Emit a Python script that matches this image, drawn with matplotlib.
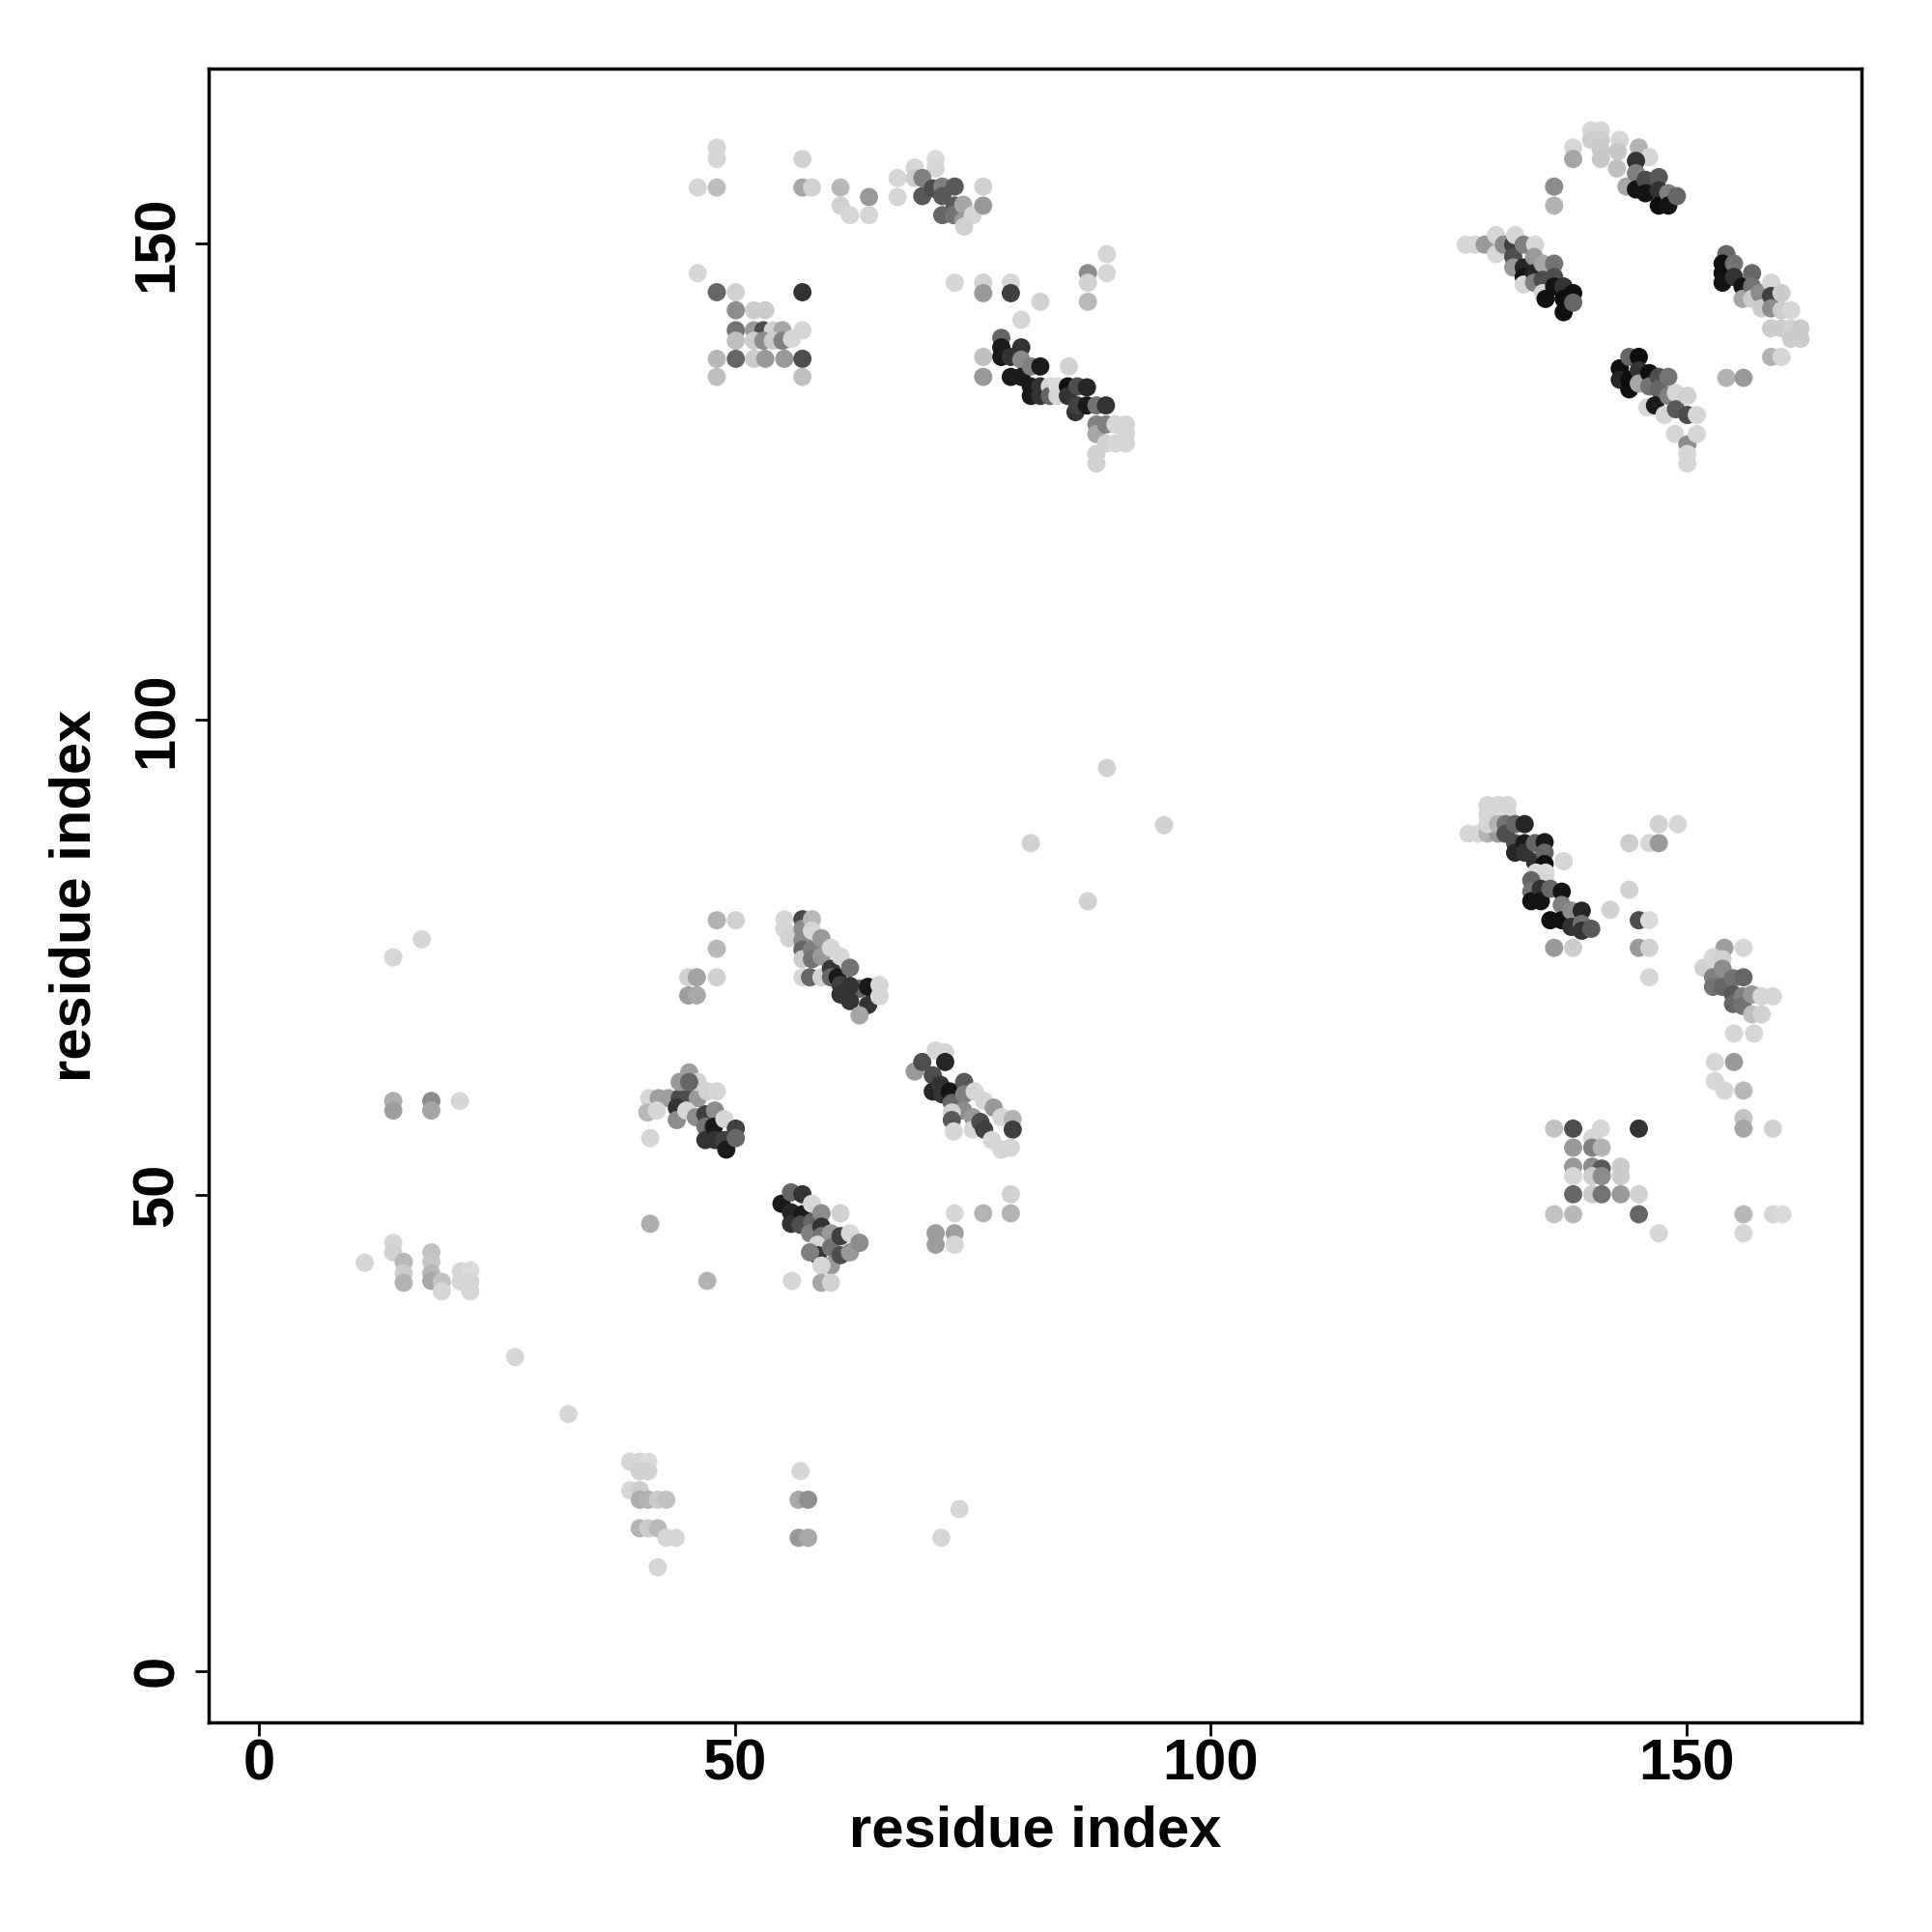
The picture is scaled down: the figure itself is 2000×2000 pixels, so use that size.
import matplotlib
matplotlib.use("Agg")
import matplotlib.pyplot as plt

# contact map: (i, j, grey level)  grey 0 = black, 1 = white
left_sparse = [
    (11.1, 42.9, .84), (14.1, 75.0, .84), (17.1, 76.9, .84),
    (14.1, 59.9, .68), (14.1, 58.9, .62), (18.1, 59.9, .55), (18.1, 58.9, .65), (21.1, 59.9, .84),
    (14.1, 45.0, .84), (14.1, 44.0, .82), (15.2, 43.0, .72), (15.2, 41.8, .80), (15.2, 40.8, .70),
    (18.1, 44.0, .76), (18.1, 43.0, .78), (18.1, 41.8, .72), (18.1, 41.0, .66),
    (19.2, 40.9, .76), (19.2, 39.9, .84), (21.2, 42.0, .84), (22.2, 42.1, .86),
    (21.2, 40.9, .84), (22.2, 40.9, .84), (22.2, 39.9, .84),
    (26.9, 33.0, .84), (32.5, 27.0, .84),
]

bottom_sparse = [
    (39.0, 22.0, .84), (40.0, 22.0, .84), (40.9, 22.0, .86), (40.0, 21.0, .82), (40.9, 21.0, .82),
    (39.0, 19.0, .84), (40.0, 19.0, .80), (40.0, 18.0, .68), (40.9, 18.0, .70), (41.9, 18.0, .80),
    (42.8, 18.0, .76), (40.0, 15.0, .70), (40.9, 15.0, .80), (41.9, 15.0, .72), (42.8, 14.0, .84),
    (43.8, 14.0, .84), (41.9, 10.9, .84),
    (56.9, 21.0, .84), (56.7, 18.0, .66), (57.7, 18.0, .56), (56.7, 14.0, .60), (57.7, 14.0, .66),
    (73.6, 17.0, .84), (71.7, 14.0, .84),
]

mid_sparse = [(89.1, 94.9, .82), (95.1, 88.9, .82), (81.1, 87.0, .82), (87.1, 80.9, .82)]

low_a = [
    (48.1, 78.9, .70), (50.1, 78.9, .82), (48.1, 75.9, .72), (45.1, 72.9, .82), (46.0, 72.9, .64),
    (48.1, 72.9, .82), (45.1, 71.0, .62), (46.0, 71.0, .66),
]

low_band1 = [
    (55.2, 79.0, .84), (55.2, 78.0, .84), (55.7, 77.0, .82), (57.1, 79.0, .28), (57.1, 78.0, .55),
    (57.1, 76.8, .55), (57.1, 75.8, .40), (57.1, 74.8, .80), (57.1, 72.9, .84), (58.1, 79.0, .72),
    (58.1, 77.8, .84), (58.1, 75.8, .50), (58.1, 74.8, .45), (57.9, 72.9, .40), (59.1, 77.0, .60),
    (59.1, 75.1, .60), (59.1, 72.9, .82), (60.1, 76.0, .84), (60.1, 73.8, .22), (60.1, 72.9, .40),
    (61.1, 75.1, .84), (60.8, 72.9, .10), (62.1, 73.9, .45), (61.1, 72.1, .25), (61.1, 71.1, .20),
    (63.1, 71.7, .40), (62.1, 72.0, .20), (62.1, 70.4, .20), (64.0, 71.9, .10), (64.0, 70.0, .20),
    (65.2, 72.1, .84), (65.2, 70.9, .84), (63.1, 68.9, .65),
]

low_band2 = [
    (41.0, 60.2, .84), (42.0, 60.2, .62), (43.0, 60.2, .62), (44.2, 60.2, .30), (45.2, 60.2, .30),
    (46.1, 60.2, .60), (47.1, 60.9, .82), (48.1, 60.9, .84), (45.2, 62.9, .62), (44.2, 61.9, .60),
    (46.1, 61.9, .82), (45.2, 61.9, .40), (40.8, 58.7, .72), (41.8, 58.9, .84), (43.9, 59.2, .20),
    (43.9, 57.9, .55), (44.9, 58.9, .84), (45.9, 58.2, .55), (46.9, 58.5, .25), (46.9, 57.2, .45),
    (46.9, 55.8, .20), (47.9, 58.9, .55), (47.8, 57.2, .10), (47.9, 55.8, .20), (48.9, 58.0, .84),
    (48.9, 55.8, .25), (49.1, 54.8, .10), (50.1, 57.0, .25), (50.1, 56.0, .40), (41.1, 56.0, .84),
]

low_band3 = [
    (54.9, 49.1, .10), (55.9, 50.3, .40), (57.1, 50.1, .20), (55.9, 48.2, .15), (55.9, 47.0, .20),
    (57.1, 48.0, .10), (56.9, 46.9, .30), (58.1, 49.1, .84), (58.1, 47.2, .40), (57.9, 46.0, .50),
    (59.1, 48.1, .55), (59.1, 46.7, .20), (59.1, 45.7, .45), (58.7, 44.8, .84), (58.7, 43.7, .20),
    (57.9, 44.0, .50), (60.1, 46.0, .60), (60.1, 44.5, .45), (60.1, 42.6, .60), (59.1, 42.6, .84),
    (59.1, 40.8, .65), (60.1, 40.8, .82), (61.1, 48.1, .82), (61.1, 45.7, .25), (61.1, 43.7, .30),
    (62.1, 46.0, .84), (62.1, 44.0, .60), (63.1, 45.0, .55),
    (41.1, 47.0, .68), (47.1, 41.0, .70), (56.0, 41.0, .84),
]

low_band4 = [
    (68.9, 63.0, .60), (69.7, 64.0, .30), (71.1, 65.2, .84), (72.1, 65.0, .84), (72.1, 64.0, .15),
    (70.8, 62.6, .30), (70.8, 60.9, .15), (71.6, 61.6, .20), (71.8, 60.6, .20), (72.6, 60.9, .08),
    (72.8, 59.7, .40), (74.1, 61.9, .35), (74.1, 60.6, .50), (74.0, 58.9, .55), (75.2, 60.9, .84),
    (76.2, 59.9, .84), (72.8, 58.7, .82), (72.8, 57.9, .35), (73.0, 56.7, .84), (75.0, 58.2, .60),
    (75.0, 56.9, .84), (75.8, 57.7, .30), (76.2, 56.9, .25), (77.2, 59.2, .60), (77.0, 55.8, .84),
    (78.0, 58.2, .84), (78.0, 54.8, .84), (79.2, 58.0, .70), (79.2, 56.9, .25), (79.0, 55.0, .84),
    (79.0, 50.1, .82), (79.0, 48.1, .70), (76.1, 48.1, .70), (73.1, 48.1, .84), (71.1, 46.0, .62),
    (71.1, 44.8, .62), (73.1, 46.0, .62), (73.1, 44.8, .84),
]

top_a = [
    (48.1, 160.1, .84), (48.1, 158.9, .84), (46.1, 155.9, .84), (48.1, 155.9, .74), (57.1, 158.9, .82),
    (57.1, 155.9, .65), (58.1, 155.9, .82), (61.1, 155.9, .72), (64.1, 154.9, .60), (61.1, 154.0, .82),
    (62.1, 153.0, .84), (64.1, 153.0, .84), (67.1, 156.9, .84), (67.1, 154.9, .84),
]

top_square = [
    (46.1, 146.9, .84), (48.1, 144.9, .40), (50.1, 144.9, .82), (57.1, 144.9, .20), (50.1, 143.0, .55),
    (52.0, 143.0, .80), (53.2, 143.0, .80), (50.1, 140.9, .45), (52.0, 140.9, .60), (53.0, 140.9, .30),
    (54.0, 140.9, .82), (55.0, 140.9, .65), (57.1, 140.9, .84), (50.1, 139.8, .75), (52.0, 139.8, .80),
    (53.0, 139.8, .55), (54.0, 139.8, .80), (55.0, 139.8, .50), (56.0, 140.0, .84), (48.1, 137.9, .72),
    (50.1, 137.9, .40), (52.0, 137.9, .80), (53.2, 137.9, .60), (55.2, 137.9, .60), (57.1, 137.9, .30),
    (48.1, 136.0, .75), (57.1, 136.0, .75),
]

top_band1 = [
    (68.9, 158.0, .84), (68.9, 156.9, .80), (71.1, 158.9, .86), (71.1, 157.9, .84), (69.7, 156.9, .50),
    (69.7, 155.0, .35), (70.8, 155.8, .30), (71.8, 156.0, .50), (71.8, 155.0, .35), (71.8, 153.0, .40),
    (73.1, 156.0, .35), (73.1, 154.0, .35), (73.0, 153.0, .45), (74.0, 154.1, .65), (74.0, 152.4, .60),
    (75.0, 153.0, .84), (74.1, 151.8, .82), (76.1, 156.0, .82), (76.1, 154.0, .60),
]

top_misc = [
    (73.1, 145.9, .84), (76.1, 145.9, .82), (76.1, 144.8, .60), (79.0, 145.9, .84), (79.0, 144.8, .25),
    (82.1, 143.9, .82), (80.1, 142.0, .84), (87.1, 146.9, .55), (87.1, 145.9, .82), (87.1, 143.9, .72),
    (89.1, 148.9, .84), (89.1, 146.9, .84), (76.1, 138.1, .75), (76.1, 136.0, .60), (85.1, 137.1, .82),
]

top_band2 = [
    (78.0, 140.1, .40), (78.0, 139.1, .10), (78.0, 138.1, .10), (79.0, 138.1, .20), (79.0, 136.0, .10),
    (80.1, 139.1, .20), (80.1, 137.8, .55), (80.1, 136.0, .10), (81.1, 137.1, .50), (81.1, 135.0, .10),
    (81.1, 134.0, .10), (82.1, 137.1, .10), (82.1, 135.0, .20), (82.1, 134.0, .20), (83.1, 135.0, .84),
    (83.1, 134.0, .40), (83.9, 135.0, .86), (83.9, 134.0, .84), (85.0, 135.0, .06), (85.0, 134.0, .20),
    (85.8, 132.3, .20), (86.0, 135.0, .30), (86.0, 133.0, .25), (87.0, 134.9, .15), (87.0, 133.0, .10),
    (88.0, 133.0, .45), (88.0, 131.0, .50), (88.0, 130.0, .65), (88.0, 127.9, .82), (88.0, 126.9, .82),
    (89.0, 133.0, .20), (89.0, 131.0, .50), (89.0, 129.0, .82), (90.0, 131.0, .84), (90.0, 129.0, .84),
    (91.1, 131.0, .84), (91.1, 130.0, .84), (91.1, 129.0, .84),
]

tr_upper = [
    (138.1, 160.1, .84), (138.1, 158.9, .65), (140.0, 161.9, .84), (141.0, 161.9, .84), (140.0, 160.9, .80),
    (141.0, 160.9, .80), (141.0, 159.9, .80), (141.0, 158.9, .78), (136.1, 156.0, .55), (136.1, 154.0, .70),
    (143.0, 160.9, .84), (142.8, 159.7, .78), (142.7, 157.9, .75), (143.7, 156.0, .65), (145.0, 160.1, .70),
    (146.1, 159.1, .84), (144.7, 158.7, .20), (144.7, 157.4, .50), (144.7, 155.7, .08), (145.7, 156.7, .30),
    (145.7, 155.3, .08), (147.1, 157.0, .35), (147.1, 155.6, .20), (147.1, 154.0, .06), (148.1, 155.3, .50),
    (148.1, 154.0, .08), (149.0, 155.0, .40),
]

tr_band1 = [
    (126.8, 149.9, .84), (127.8, 149.9, .84), (128.8, 149.9, .60), (130.0, 150.9, .84), (130.0, 148.9, .84),
    (130.8, 149.9, .55), (131.8, 149.9, .25), (132.0, 150.9, .84), (131.8, 148.6, .30), (131.8, 147.5, .60),
    (132.9, 149.9, .50), (132.9, 147.5, .15), (132.9, 146.5, .08), (132.9, 145.7, .84), (134.1, 149.9, .84),
    (134.0, 148.6, .60), (134.0, 146.9, .15), (134.0, 145.9, .50), (134.9, 147.9, .65), (134.9, 146.2, .30),
    (134.9, 144.8, .84), (136.1, 147.9, .45), (136.1, 146.5, .30), (136.1, 145.5, .08), (135.2, 144.2, .06),
    (137.1, 145.5, .20), (137.1, 144.2, .06), (137.1, 142.8, .06), (138.1, 144.8, .06), (138.1, 143.8, .40),
]

tr_band2 = [
    (154.2, 148.9, .40), (153.8, 147.9, .06), (153.8, 146.9, .06), (153.8, 145.9, .08), (155.0, 147.9, .45),
    (155.0, 146.5, .20), (155.9, 145.5, .08), (155.9, 144.2, .65), (156.9, 146.9, .40), (156.9, 145.5, .45),
    (156.9, 144.2, .80), (157.7, 144.8, .55), (157.9, 143.2, .80), (158.9, 145.9, .84), (158.9, 144.5, .25),
    (158.9, 143.2, .55), (160.0, 144.8, .80), (160.0, 143.0, .80), (161.0, 143.0, .84), (158.9, 141.1, .80),
    (160.0, 141.1, .80), (161.0, 141.1, .82), (162.0, 141.1, .80), (162.0, 140.0, .80), (161.0, 140.0, .80),
    (158.9, 138.1, .70), (160.0, 138.1, .84), (154.2, 135.9, .70), (156.0, 135.9, .60),
]

tr_band3 = [
    (143.0, 136.9, .06), (144.0, 138.1, .40), (145.0, 138.1, .06), (143.0, 135.7, .15), (144.0, 135.7, .06),
    (144.0, 134.7, .06), (145.0, 136.7, .20), (145.0, 135.3, .65), (146.1, 136.4, .06), (146.1, 135.0, .45),
    (145.9, 132.8, .84), (147.1, 136.0, .30), (147.1, 134.7, .40), (146.7, 133.0, .10), (148.1, 136.0, .45),
    (148.1, 134.0, .50), (147.7, 132.0, .84), (148.9, 134.3, .84), (148.9, 132.6, .35), (148.8, 130.0, .84),
    (150.1, 134.0, .82), (150.1, 132.0, .30), (150.1, 128.9, .55), (150.1, 127.9, .84), (150.1, 126.9, .84),
    (151.1, 132.0, .84), (151.1, 130.0, .84),
]

mr_band1 = [
    (127.1, 88.0, .84), (128.1, 88.0, .84), (129.1, 88.0, .70), (130.2, 88.0, .60), (129.1, 91.0, .84),
    (130.2, 91.0, .84), (131.2, 91.0, .84), (129.1, 90.0, .84), (131.2, 90.0, .84), (129.1, 89.0, .84),
    (130.2, 89.0, .70), (131.0, 89.0, .45), (131.0, 88.0, .30), (132.0, 89.0, .40), (133.0, 89.0, .15),
    (132.0, 87.0, .30), (132.0, 86.0, .15), (133.0, 87.0, .10), (133.0, 86.0, .20), (134.1, 87.0, .40),
    (134.1, 85.0, .20), (135.1, 87.1, .10), (135.1, 86.0, .40), (135.1, 84.8, .06), (137.1, 85.1, .84),
    (134.2, 83.9, .86), (135.2, 83.9, .86), (135.2, 82.9, .84), (133.7, 83.1, .40), (133.7, 81.9, .45),
    (133.7, 80.9, .08), (134.7, 82.2, .20), (134.7, 80.9, .08), (135.7, 82.2, .40), (135.7, 78.9, .06),
    (136.9, 81.9, .08), (136.9, 80.5, .50), (136.9, 78.9, .06), (137.9, 79.9, .55), (137.9, 78.2, .20),
    (139.0, 79.9, .15), (139.0, 78.5, .45), (139.0, 77.8, .20), (140.0, 78.0, .35), (136.1, 76.0, .60),
    (138.1, 76.0, .80),
]

mr_misc = [
    (142.0, 80.0, .82), (144.0, 82.1, .82), (147.1, 89.0, .82), (149.1, 89.0, .84), (144.0, 87.0, .80),
    (146.1, 87.0, .84), (147.1, 87.0, .60), (145.0, 78.9, .30), (146.1, 78.9, .86), (145.0, 76.0, .60),
    (146.1, 76.0, .82), (146.1, 72.9, .84),
]

mr_band2 = [
    (154.0, 76.0, .62), (156.0, 76.0, .84), (151.8, 73.9, .82), (152.8, 75.0, .84), (153.8, 74.8, .82),
    (152.8, 72.9, .50), (152.8, 71.9, .45), (153.8, 73.8, .55), (153.8, 71.9, .40), (154.9, 72.8, .45),
    (154.9, 71.1, .35), (154.9, 70.1, .40), (156.0, 72.9, .40), (155.9, 70.9, .50), (155.9, 69.9, .45),
    (156.9, 71.1, .60), (156.9, 69.0, .75), (157.9, 70.9, .84), (157.9, 69.0, .82), (159.1, 70.9, .84),
    (155.0, 67.0, .84), (157.1, 67.0, .84), (153.0, 64.0, .84), (155.0, 64.0, .60), (153.0, 62.0, .84),
    (154.0, 61.0, .84), (156.0, 61.0, .72), (156.0, 58.1, .76), (156.0, 57.0, .65), (159.1, 57.0, .82),
    (156.0, 48.0, .72), (156.0, 46.0, .84), (159.1, 48.0, .84), (160.1, 48.0, .86),
]

mr_square = [
    (136.1, 57.0, .76), (138.1, 57.0, .30), (141.0, 57.0, .84), (145.0, 57.0, .20), (140.1, 56.0, .84),
    (138.1, 55.0, .60), (140.1, 55.0, .50), (141.1, 55.0, .70), (138.1, 53.0, .60), (140.1, 53.0, .55),
    (141.1, 52.8, .35), (143.1, 53.0, .80), (138.1, 52.0, .84), (140.1, 52.0, .80), (141.1, 52.0, .55),
    (143.1, 52.0, .80), (138.1, 50.1, .40), (140.1, 50.1, .80), (141.1, 50.1, .45), (143.1, 50.1, .60),
    (145.0, 50.1, .82), (136.1, 48.0, .76), (138.1, 48.0, .72), (145.0, 48.0, .40), (147.1, 46.0, .84),
]

clusters = [left_sparse, bottom_sparse, mid_sparse, low_a, low_band1, low_band2, low_band3,
            low_band4, top_a, top_square, top_band1, top_misc, top_band2, tr_upper, tr_band1,
            tr_band2, tr_band3, mr_band1, mr_misc, mr_band2, mr_square]

ticks = [0, 50, 100, 150]

plt.rcParams['font.family'] = ['Liberation Sans', 'DejaVu Sans']
plt.rcParams['font.weight'] = 'bold'

fig = plt.figure(figsize=(20, 20), dpi=100)
ax = fig.add_axes([0.108, 0.1085, 0.8555, 0.856])

for cl in clusters:
    xs = [p[0] for p in cl]
    ys = [p[1] for p in cl]
    cs = [(p[2], p[2], p[2]) for p in cl]
    ax.scatter(xs, ys, s=185, c=cs, edgecolors='none')

ax.set_xlim(-5.3, 168.4)
ax.set_ylim(-5.4, 168.4)
ax.set_xticks(ticks)
ax.set_yticks(ticks)
ax.set_xticklabels([str(t) for t in ticks], fontsize=43, fontweight='bold')
ax.set_yticklabels([str(t) for t in ticks], fontsize=43, fontweight='bold', rotation=90, va='center')
ax.tick_params(axis='both', length=10, width=2)
ax.tick_params(axis='x', pad=2)
ax.tick_params(axis='y', pad=8)
for sp in ax.spines.values():
    sp.set_linewidth(2.5)

ax.set_xlabel('residue index', fontsize=43, fontweight='bold', labelpad=10)
ax.set_ylabel('residue index', fontsize=43, fontweight='bold', labelpad=22)

fig.savefig('out.png', dpi=100, facecolor='white')
